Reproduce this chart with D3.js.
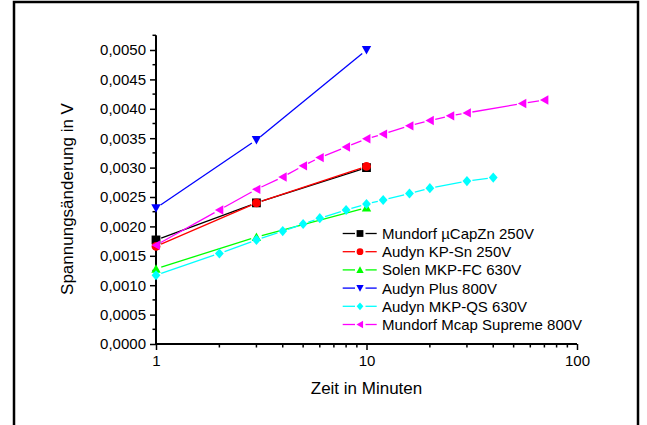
<!DOCTYPE html>
<html>
<head>
<meta charset="utf-8">
<script src="https://cdn.jsdelivr.net/npm/d3@7"></script>
<style>
  body { margin: 0; background: #fff; }
  svg { display: block; font-family: "Liberation Sans", Arial, sans-serif; }
</style>
</head>
<body>
<div id="viz"></div>
<script>
var width = 647,
    height = 425;

// Messwerte (Zeit in Minuten, Spannungsänderung in V)
var timesShort = [1, 3, 10];
var mundorfZn = [0.00177, 0.00240, 0.00300];
var audynKP = [0.00166, 0.00240, 0.00302];
var solenFC = [0.00128, 0.00182, 0.00232];
var audynPlus = [0.00231, 0.00347, 0.00500];

var timesQS = [1, 2, 3, 4, 5, 6, 8, 10, 12, 16, 20, 30, 40];
var audynQS = [0.00117, 0.00154, 0.00177, 0.00192, 0.00204, 0.00214, 0.00228, 0.00238, 0.00245, 0.00256, 0.00265, 0.00277, 0.00283];

var timesMcap = [1, 2, 3, 4, 5, 6, 8, 10, 12, 16, 20, 25, 30, 55, 70];
var mcapSupreme = [0.00168, 0.00228, 0.00263, 0.00284, 0.00303, 0.00317, 0.00335, 0.00349, 0.00357, 0.00371, 0.00380, 0.00388, 0.00393, 0.00409, 0.00415];

var seriesNames = ["Mundorf µCapZn 250V", "Audyn KP-Sn 250V", "Solen MKP-FC 630V",
                   "Audyn Plus 800V", "Audyn MKP-QS 630V", "Mundorf Mcap Supreme 800V"];
var seriesColors = ["#000000", "#ff0000", "#00ff00", "#0000ff", "#00ffff", "#ff00ff"];
var seriesSymbols = ["square", "circle", "up", "down", "diamond", "left"];

var yTicks = d3.range(0, 0.00501, 0.0005);
var yMinor = d3.range(0.00025, 0.0053, 0.0005);
var xTicks = [1, 10, 100];
var xMinor = [2, 3, 4, 5, 6, 7, 8, 9, 20, 30, 40, 50, 60, 70, 80, 90];

var series = [
    {times: timesShort, values: mundorfZn},
    {times: timesShort, values: audynKP},
    {times: timesShort, values: solenFC},
    {times: timesShort, values: audynPlus},
    {times: timesQS, values: audynQS},
    {times: timesMcap, values: mcapSupreme}
];
series.forEach(function(s, i) {
    s.name = seriesNames[i];
    s.color = seriesColors[i];
    s.symbol = seriesSymbols[i];
});

var x = d3.scaleLog().domain([1, 100]).range([156, 577]);
var y = d3.scaleLinear().domain([0, 0.00525]).range([344, 35.3]);

var svg = d3.select("div#viz").append("svg")
    .attr("width", width)
    .attr("height", height);

// Rahmen (unten offen, laeuft aus dem Bild)
svg.append("rect")
    .attr("x", 14).attr("y", 2)
    .attr("width", 624).attr("height", 600)
    .attr("fill", "none")
    .attr("stroke", "#000")
    .attr("stroke-width", 2.5);

// marker paths, r = half size
function symbolPath(type, r) {
    if (type === "square") return "M" + (-r) + "," + (-r) + "h" + 2 * r + "v" + 2 * r + "h" + (-2 * r) + "Z";
    if (type === "circle") return "M" + r + ",0A" + r + "," + r + " 0 1,1 " + (-r) + ",0A" + r + "," + r + " 0 1,1 " + r + ",0Z";
    if (type === "diamond") return "M0," + (-r * 1.15) + "L" + r + ",0L0," + (r * 1.15) + "L" + (-r) + ",0Z";
    var h = r * 0.9;
    if (type === "up") return "M0," + (-h - 0.5) + "L" + (r + 0.3) + "," + h + "L" + (-r - 0.3) + "," + h + "Z";
    if (type === "down") return "M0," + (h + 0.5) + "L" + (r + 0.3) + "," + (-h) + "L" + (-r - 0.3) + "," + (-h) + "Z";
    if (type === "left") return "M" + (-h - 0.5) + ",0L" + h + "," + (-r - 0.3) + "L" + h + "," + (r + 0.3) + "Z";
}

// Achsen
var yAxis = d3.axisLeft(y)
    .tickValues(yTicks)
    .tickSize(6)
    .tickPadding(4)
    .tickFormat(function(d) { return d3.format(".4f")(d).replace(".", ","); });

var gy = svg.append("g")
    .attr("transform", "translate(156,0)")
    .call(yAxis);

var xAxis = d3.axisBottom(x)
    .tickValues(xTicks)
    .tickSize(6)
    .tickPadding(5)
    .tickFormat(d3.format("d"));

var gx = svg.append("g")
    .attr("transform", "translate(0,344)")
    .call(xAxis);

[gx, gy].forEach(function(g) {
    g.select(".domain").remove();
    g.selectAll(".tick line").attr("stroke", "#000").attr("stroke-width", 1.5);
    g.selectAll(".tick text").attr("fill", "#000").attr("font-size", 15)
        .attr("font-family", "Liberation Sans, Arial, sans-serif");
});

// minor ticks
svg.append("g").selectAll("line")
    .data(yMinor)
    .enter().append("line")
    .attr("x1", 152.5).attr("x2", 156)
    .attr("y1", function(d) { return y(d); })
    .attr("y2", function(d) { return y(d); })
    .attr("stroke", "#000").attr("stroke-width", 1.5);

svg.append("g").selectAll("line")
    .data(xMinor)
    .enter().append("line")
    .attr("x1", function(d) { return x(d); })
    .attr("x2", function(d) { return x(d); })
    .attr("y1", 344).attr("y2", 347.5)
    .attr("stroke", "#000").attr("stroke-width", 1.5);

// axis lines
svg.append("line")
    .attr("x1", 156).attr("x2", 156)
    .attr("y1", y(0.00525)).attr("y2", 345)
    .attr("stroke", "#000").attr("stroke-width", 2);
svg.append("line")
    .attr("x1", 155).attr("x2", x(100))
    .attr("y1", 344).attr("y2", 344)
    .attr("stroke", "#000").attr("stroke-width", 2);

// Achsentitel
svg.append("text")
    .attr("x", x(10)).attr("y", 394)
    .attr("text-anchor", "middle")
    .attr("font-size", 17)
    .text("Zeit in Minuten");

svg.append("text")
    .attr("transform", "translate(73,199) rotate(-90)")
    .attr("text-anchor", "middle")
    .attr("font-size", 17)
    .text("Spannungsänderung in V");

// Datenreihen: Linien mit Luecke um die Symbole
var gap = 5.5;
var plot = svg.append("g");

series.forEach(function(s) {
    var pts = s.times.map(function(t, i) { return [x(t), y(s.values[i])]; });
    var segs = [];
    for (var i = 0; i < pts.length - 1; i++) {
        var dx = pts[i + 1][0] - pts[i][0],
            dy = pts[i + 1][1] - pts[i][1],
            len = Math.sqrt(dx * dx + dy * dy);
        if (len <= 2 * gap) continue;
        var ux = dx / len, uy = dy / len;
        segs.push([pts[i][0] + ux * gap, pts[i][1] + uy * gap,
                   pts[i + 1][0] - ux * gap, pts[i + 1][1] - uy * gap]);
    }
    var g = plot.append("g");
    g.selectAll("line")
        .data(segs)
        .enter().append("line")
        .attr("x1", function(d) { return d[0]; })
        .attr("y1", function(d) { return d[1]; })
        .attr("x2", function(d) { return d[2]; })
        .attr("y2", function(d) { return d[3]; })
        .attr("stroke", s.color)
        .attr("stroke-width", 1.3);
    g.selectAll("path")
        .data(pts)
        .enter().append("path")
        .attr("transform", function(d) { return "translate(" + d[0] + "," + d[1] + ")"; })
        .attr("d", symbolPath(s.symbol, 4.4))
        .attr("fill", s.color);
});

// Legende
var legend = svg.append("g");
var legendRow = legend.selectAll("g")
    .data(series)
    .enter().append("g")
    .attr("transform", function(d, i) { return "translate(0," + (233.5 + i * 18.2) + ")"; });

legendRow.append("line")
    .attr("x1", 342.7).attr("x2", 355)
    .attr("stroke", function(d) { return d.color; })
    .attr("stroke-width", 1.3);
legendRow.append("line")
    .attr("x1", 365.5).attr("x2", 376.7)
    .attr("stroke", function(d) { return d.color; })
    .attr("stroke-width", 1.3);
legendRow.append("path")
    .attr("transform", "translate(360,0)")
    .attr("d", function(d) { return symbolPath(d.symbol, 3.4); })
    .attr("fill", function(d) { return d.color; });
legendRow.append("text")
    .attr("x", 382)
    .attr("dy", "0.36em")
    .attr("font-size", 15)
    .text(function(d) { return d.name; });
</script>
</body>
</html>
